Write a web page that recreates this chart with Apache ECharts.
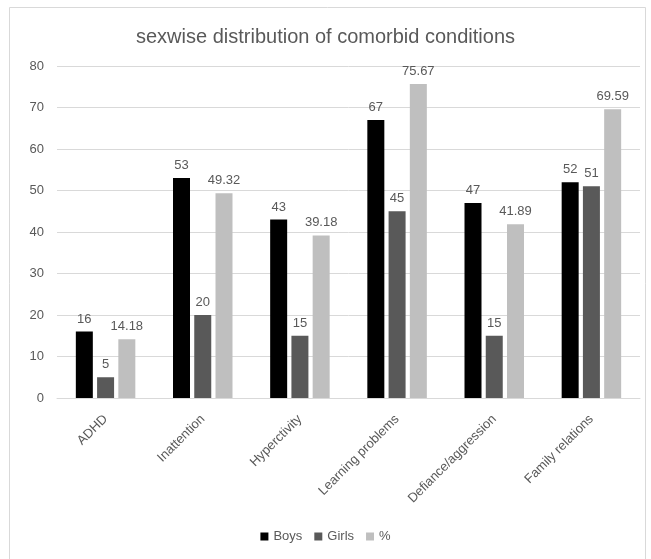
<!DOCTYPE html>
<html>
<head>
<meta charset="utf-8">
<script src="https://cdn.jsdelivr.net/npm/echarts@6/dist/echarts.min.js"></script>
<style>
  html, body { margin: 0; padding: 0; background: #fff; }
  #chart { width: 651px; height: 559px; }
</style>
</head>
<body>
<div id="chart"></div>
<script>
const categories = ['ADHD', 'Inattention', 'Hyperctivity', 'Learning problems', 'Defiance/aggression', 'Family relations'];
const boys = [16, 53, 43, 67, 47, 52];
const girls = [5, 20, 15, 45, 15, 51];
const percent = [14.18, 49.32, 39.18, 75.67, 41.89, 69.59];

const textColor = '#595959';
const fontFamily = '"Liberation Sans", "DejaVu Sans", sans-serif';

const labelStyle = {
  show: true,
  position: 'top',
  color: textColor,
  fontSize: 13,
  fontFamily: fontFamily,
  distance: 6
};

const chart = echarts.init(document.getElementById('chart'), null, { renderer: 'canvas' });
chart.setOption({
  backgroundColor: '#ffffff',
  animation: false,
  graphic: [{
    type: 'rect',
    shape: { x: 9.5, y: 7.5, width: 636, height: 560 },
    style: { fill: 'none', stroke: '#d9d9d9', lineWidth: 1 },
    silent: true
  }],
  title: {
    text: 'sexwise distribution of comorbid conditions',
    left: 'center',
    top: 22,
    textStyle: { color: textColor, fontSize: 20, fontWeight: 'normal', fontFamily: fontFamily }
  },
  legend: {
    bottom: 11,
    left: 'center',
    itemWidth: 8,
    itemHeight: 8,
    itemGap: 12,
    icon: 'rect',
    textStyle: { color: textColor, fontSize: 13, fontFamily: fontFamily },
    data: ['Boys', 'Girls', '%']
  },
  grid: { left: 57, right: 11, top: 66, bottom: 161 },
  xAxis: {
    type: 'category',
    data: categories,
    axisLine: { lineStyle: { color: '#d9d9d9' } },
    axisTick: { show: false },
    axisLabel: {
      rotate: 45,
      interval: 0,
      color: textColor,
      fontSize: 13,
      fontFamily: fontFamily,
      margin: 19
    }
  },
  yAxis: {
    type: 'value',
    min: 0,
    max: 80,
    interval: 10,
    axisLine: { show: false },
    axisTick: { show: false },
    splitLine: { lineStyle: { color: '#d9d9d9' } },
    axisLabel: { color: textColor, fontSize: 13, fontFamily: fontFamily, margin: 13 }
  },
  series: [
    { name: 'Boys', type: 'bar', data: boys, barWidth: 17, barGap: '25%', itemStyle: { color: '#000000' }, label: labelStyle },
    { name: 'Girls', type: 'bar', data: girls, barWidth: 17, barGap: '25%', itemStyle: { color: '#595959' }, label: labelStyle },
    { name: '%', type: 'bar', data: percent, barWidth: 17, barGap: '25%', itemStyle: { color: '#bfbfbf' }, label: labelStyle }
  ]
});
</script>
</body>
</html>
